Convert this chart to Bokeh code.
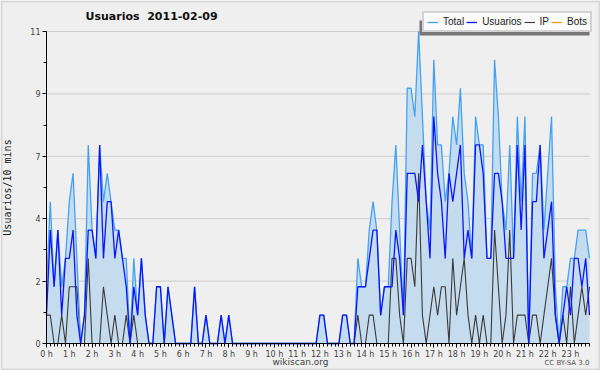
from bokeh.plotting import figure
from bokeh.models import Range1d, FixedTicker, Legend, LegendItem, Label, BoxAnnotation, ColumnDataSource
from bokeh.embed import file_html
from bokeh.resources import INLINE

# 10-minute slots, 2011-02-09 (144 values)
total = [2, 5, 2, 4, 2, 3, 5, 6, 3, 0,
         1, 7, 4, 3, 7, 5, 6, 5,
         4, 4, 3, 3, 0, 3, 1, 3, 1, 0, 0, 2, 2, 0, 2, 1, 0,
         0, 0, 0, 0, 2, 0, 0, 1, 0, 0, 0, 1, 0, 1,
         0, 0, 0, 0, 0, 0, 0, 0, 0, 0, 0, 0, 0, 0, 0, 0, 0, 0, 0, 0, 0, 0, 0,
         1, 1, 0, 0, 0, 0, 1, 1, 0, 0,
         3, 2, 2, 4, 5, 4, 1, 2, 2, 5, 7, 4, 1,
         9, 9, 8, 11, 8, 5, 4, 10, 7, 7, 5, 6, 8, 7, 9, 6, 5, 3,
         8, 7, 7, 3, 3, 10, 8, 5, 4, 7, 3, 8, 5, 8, 0,
         6, 6, 7, 4, 6, 8, 2, 0, 2, 2, 3, 3, 4, 4, 4, 3]
usuarios = [1, 4, 2, 4, 1, 3, 3, 4, 1, 0,
            1, 4, 4, 3, 7, 3, 5, 5,
            3, 4, 3, 2, 0, 2, 1, 3, 1, 0, 0, 2, 2, 0, 2, 1, 0,
            0, 0, 0, 0, 2, 0, 0, 1, 0, 0, 0, 1, 0, 1,
            0, 0, 0, 0, 0, 0, 0, 0, 0, 0, 0, 0, 0, 0, 0, 0, 0, 0, 0, 0, 0, 0, 0,
            1, 1, 0, 0, 0, 0, 1, 1, 0, 0,
            2, 2, 2, 3, 4, 4, 1, 2, 2, 2, 4, 3, 1,
            6, 6, 6, 5, 7, 5, 3, 8, 6, 5, 3, 6, 5, 6, 7, 3, 4, 3,
            7, 7, 6, 3, 3, 6, 6, 5, 3, 3, 3, 7, 4, 7, 0,
            5, 5, 7, 3, 4, 5, 1, 0, 1, 2, 1, 3, 3, 2, 3, 1]
ip = [1, 1, 0, 0, 1, 0, 2, 2, 2, 0,
      0, 3, 0, 0, 0, 2, 1, 0,
      1, 0, 0, 1, 0, 1, 0, 0, 0, 0, 0, 0, 0, 0, 0, 0, 0,
      0, 0, 0, 0, 0, 0, 0, 0, 0, 0, 0, 0, 0, 0,
      0, 0, 0, 0, 0, 0, 0, 0, 0, 0, 0, 0, 0, 0, 0, 0, 0, 0, 0, 0, 0, 0, 0,
      0, 0, 0, 0, 0, 0, 0, 0, 0, 0,
      1, 0, 0, 1, 1, 0, 0, 0, 0, 3, 3, 1, 0,
      3, 3, 2, 6, 1, 0, 1, 2, 1, 2, 2, 0, 3, 1, 2, 3, 1, 0,
      1, 0, 1, 0, 0, 4, 2, 0, 1, 4, 0, 1, 1, 1, 0,
      1, 1, 0, 1, 2, 3, 1, 0, 1, 0, 2, 0, 1, 2, 1, 2]
bots = [0] * 144

hour_labels = ["0 h", "1 h", "2 h", "3 h", "4 h", "5 h", "6 h", "7 h", "8 h", "9 h", "10 h", "11 h",
               "12 h", "13 h", "14 h", "15 h", "16 h", "17 h", "18 h", "19 h", "20 h", "21 h", "22 h", "23 h"]
y_tick_values = [0, 2.2, 4.4, 6.6, 8.8, 11]
y_tick_labels = ["0", "2", "4", "7", "9", "11"]
y_minor_values = [1.1, 3.3, 5.5, 7.7, 9.9]
y_max = 11

# layout: the frame covers the whole canvas; the data area is placed inside it by the ranges
W, H = 600, 370
PLOT_LEFT, PLOT_RIGHT = 46, 589          # pixel columns of first / last slot
PLOT_TOP, PLOT_BOTTOM = 31, 343          # pixel rows of y=11 and y=0

slots = [i / 6 for i in range(len(total))]
x_end = slots[-1]
px_x = (PLOT_RIGHT - PLOT_LEFT) / x_end
px_y = (PLOT_BOTTOM - PLOT_TOP) / y_max

src = ColumnDataSource(dict(x=slots, total=total, usuarios=usuarios, ip=ip, bots=bots))

p = figure(width=W, height=H,
           x_range=Range1d(-PLOT_LEFT / px_x, x_end + (W - PLOT_RIGHT) / px_x),
           y_range=Range1d(-(H - PLOT_BOTTOM) / px_y, y_max + PLOT_TOP / px_y),
           output_backend="svg", toolbar_location=None,
           min_border_left=0, min_border_right=0, min_border_top=0, min_border_bottom=0)
p.border_fill_color = "#efefef"
p.background_fill_color = "#efefef"
p.outline_line_color = None
p.xgrid.grid_line_color = None
p.ygrid.grid_line_color = None

# horizontal grid lines at the y ticks, spanning the data area only
grid_y = y_tick_values[1:]
p.segment(x0=[0] * len(grid_y), x1=[x_end] * len(grid_y), y0=grid_y, y1=grid_y,
          line_color="#cccccc", line_width=1)

fill = p.varea(x="x", y1=0, y2="total", source=src, fill_color="#c5dbee", fill_alpha=1.0)
r_bots = p.line("x", "bots", source=src, line_color="#ff9900", line_width=1.2)
r_ip = p.line("x", "ip", source=src, line_color="#3a3a3a", line_width=1.1)
r_total = p.line("x", "total", source=src, line_color="#44a2f2", line_width=1.3)
r_usu = p.line("x", "usuarios", source=src, line_color="#0a16ff", line_width=1.3)

# axes, pinned to the data origin
xa = p.xaxis[0]
xa.fixed_location = 0
xa.bounds = (0, x_end)
xa.ticker = FixedTicker(ticks=list(range(len(hour_labels))), minor_ticks=slots)
xa.major_label_overrides = {i: lab for i, lab in enumerate(hour_labels)}
ya = p.yaxis[0]
ya.fixed_location = 0
ya.bounds = (0, y_max)
ya.ticker = FixedTicker(ticks=y_tick_values, minor_ticks=y_minor_values)
ya.major_label_overrides = {v: lab for v, lab in zip(y_tick_values, y_tick_labels)}
ya.axis_label = "Usuarios/10 mins"
ya.axis_label_text_font = "DejaVu Sans Mono"
ya.axis_label_text_font_size = "10px"
ya.axis_label_text_font_style = "normal"
ya.axis_label_text_color = "#222222"
ya.axis_label_standoff = 14
for ax in (xa, ya):
    ax.axis_line_color = "black"
    ax.major_tick_line_color = "black"
    ax.minor_tick_line_color = "black"
    ax.major_tick_in = 0
    ax.minor_tick_in = 0
    ax.major_tick_out = 4
    ax.minor_tick_out = 3
    ax.major_label_text_font = "DejaVu Sans"
    ax.major_label_text_font_size = "8px"
    ax.major_label_text_color = "#444444"
    ax.major_label_standoff = 2

# title (screen units measured from the canvas bottom-left)
p.add_layout(Label(x=85, y=H - 9, x_units="screen", y_units="screen",
                   text="Usuarios\u00a0 2011-02-09", text_baseline="top",
                   text_font="DejaVu Sans", text_font_size="11px", text_font_style="bold",
                   text_color="#111111"))

# legend shadow + legend
shadow = BoxAnnotation(left=419, right=589, bottom=H - 35, top=H - 20,
                       left_units="screen", right_units="screen", bottom_units="screen", top_units="screen",
                       fill_color="#777777", fill_alpha=1.0, line_color=None)
p.add_layout(shadow)
legend = Legend(items=[LegendItem(label="Total", renderers=[r_total]),
                       LegendItem(label="Usuarios", renderers=[r_usu]),
                       LegendItem(label="IP", renderers=[r_ip]),
                       LegendItem(label="Bots", renderers=[r_bots])],
                orientation="horizontal", location=(422, H - 32))
legend.label_text_font = "Liberation Sans"
legend.label_text_font_size = "10px"
legend.label_text_color = "#222222"
legend.glyph_width = 11
legend.glyph_height = 10
legend.label_standoff = 5
legend.label_width = 4
legend.spacing = 2
legend.padding = 3
legend.margin = 0
legend.label_height = 10
legend.background_fill_color = "#fbfbfb"
legend.background_fill_alpha = 1.0
legend.border_line_color = "#aaaaaa"
legend.border_line_width = 2
p.add_layout(legend)

# footer
p.add_layout(Label(x=300, y=4, x_units="screen", y_units="screen", text="wikiscan.org",
                   text_align="center", text_baseline="bottom", text_font="DejaVu Sans",
                   text_font_size="9px", text_color="#444444"))
p.add_layout(Label(x=589, y=4, x_units="screen", y_units="screen", text="CC BY-SA 3.0",
                   text_align="right", text_baseline="bottom", text_font="DejaVu Sans",
                   text_font_size="7px", text_color="#555555"))

# outer image border
p.add_layout(BoxAnnotation(left=1, right=W - 1, bottom=1, top=H - 1,
                           left_units="screen", right_units="screen", bottom_units="screen", top_units="screen",
                           fill_alpha=0, line_color="#a0a0a0", line_width=2))

open("out.html", "w").write(file_html(p, INLINE))
